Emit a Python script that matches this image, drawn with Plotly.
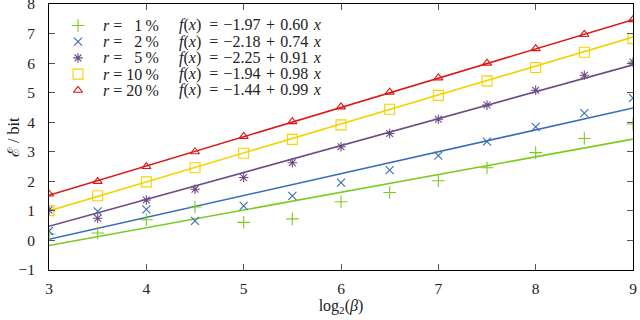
import plotly.graph_objects as go

x_vals = [3, 3.5, 4, 4.5, 5, 5.5, 6, 6.5, 7, 7.5, 8, 8.5, 9]

r1 = [0.22, 0.25, 0.70, 1.13, 0.61, 0.73, 1.31, 1.62, 2.02, 2.46, 2.97, 3.45, 3.94]
r2 = [0.32, 0.98, 1.05, 0.66, 1.17, 1.51, 1.96, 2.38, 2.87, 3.34, 3.84, 4.31, 4.82]
r5 = [1.03, 0.75, 1.37, 1.73, 2.13, 2.63, 3.17, 3.62, 4.10, 4.58, 5.08, 5.59, 6.04]
r10 = [1.01, 1.51, 1.98, 2.46, 2.95, 3.42, 3.91, 4.44, 4.91, 5.40, 5.85, 6.37, 6.83]
r20 = [1.57, 2.00, 2.50, 3.00, 3.52, 4.02, 4.52, 5.02, 5.50, 6.00, 6.49, 6.97, 7.47]

rates = ["\u20071", "\u20072", "\u20075", "10", "20"]
intercepts = [-1.97, -2.18, -2.25, -1.94, -1.44]
slopes = [0.60, 0.74, 0.91, 0.98, 0.99]
series = [r1, r2, r5, r10, r20]

colors = ["#7ACB1E", "#3A6DB5", "#6F4D84", "#F2D400", "#DA1818"]
symbols = ["cross-thin-open", "x-thin-open", "asterisk-open", "square-open", "triangle-up-open"]
sizes = [9, 8, 8, 10, 8]

SERIF = "Liberation Serif, Times New Roman, DejaVu Serif, serif"
TXT = "#222222"

# layout geometry (pixels)
W, H = 640, 320
ML, MR, MT, MB = 49, 7, 4, 50
PW, PH = W - ML - MR, H - MT - MB
KEY_X = 78          # legend key centre
R_X = 101           # "r = .." column start
F_X = 177           # "f(x) = .." column start
ROW0, ROW_H = 25.5, 16.2
YTITLE_X = 13

def px_to_paper_x(px):
    return (px - ML) / PW

def px_to_paper_y(py):
    return 1 - (py - MT) / PH

fig = go.Figure()

for i in range(5):
    a, b = intercepts[i], slopes[i]
    fit = [a + b * xv for xv in x_vals]
    fig.add_trace(go.Scatter(
        x=x_vals, y=fit, mode="lines",
        line=dict(color=colors[i], width=1.6),
        showlegend=False, hoverinfo="skip"))

for i in range(5):
    fig.add_trace(go.Scatter(
        x=x_vals, y=series[i], mode="markers", showlegend=False,
        marker=dict(symbol=symbols[i], size=sizes[i], color=colors[i],
                    line=dict(color=colors[i], width=1.1))))

# legend: keys on an overlay (paper-like) axis, labels as annotations
for i in range(5):
    a, b = intercepts[i], slopes[i]
    ry = ROW0 + i * ROW_H
    fig.add_trace(go.Scatter(
        x=[px_to_paper_x(KEY_X)], y=[px_to_paper_y(ry)], mode="markers",
        xaxis="x2", yaxis="y2", showlegend=False, hoverinfo="skip",
        marker=dict(symbol=symbols[i], size=sizes[i], color=colors[i],
                    line=dict(color=colors[i], width=1.1))))
    sign = "\u2212" if a < 0 else "+"
    fig.add_annotation(
        xref="paper", yref="paper", x=px_to_paper_x(R_X), y=px_to_paper_y(ry),
        xanchor="left", yanchor="middle", showarrow=False,
        text=f"<i>r</i>\u2005=\u2005{rates[i]}\u2009%",
        font=dict(family=SERIF, size=16, color=TXT))
    fig.add_annotation(
        xref="paper", yref="paper", x=px_to_paper_x(F_X), y=px_to_paper_y(ry),
        xanchor="left", yanchor="middle", showarrow=False,
        text=(f"<i>f</i>(<i>x</i>)\u2002=\u2004{sign}{abs(a):.2f}"
              f"\u2004+\u2004{b:.2f}\u2004<i>x</i>"),
        font=dict(family=SERIF, size=16, color=TXT))

# y-axis title
fig.add_annotation(
    xref="paper", yref="paper", x=px_to_paper_x(YTITLE_X), y=0.5,
    xanchor="center", yanchor="middle", showarrow=False, textangle=-90,
    text="ℰ / bit", font=dict(family=SERIF, size=16, color=TXT))

axis_common = dict(
    showgrid=False, zeroline=False, showline=True, linecolor="black",
    linewidth=1, mirror="allticks", ticks="inside", ticklen=6,
    tickcolor="#555555", tickwidth=1, ticklabeloverflow="allow",
    tickfont=dict(family=SERIF, size=15.5, color=TXT),
)

fig.update_xaxes(range=[3, 9], tickvals=[3, 4, 5, 6, 7, 8, 9],
                 ticklabelstandoff=4,
                 title=dict(text="log<sub>2</sub>(<i>β</i>)", standoff=3,
                            font=dict(family=SERIF, size=16, color=TXT)),
                 **axis_common)
fig.update_yaxes(range=[-1, 8], tickvals=[-1, 0, 1, 2, 3, 4, 5, 6, 7, 8],
                 ticklabelstandoff=10,
                 **axis_common)

fig.update_layout(
    width=W, height=H,
    margin=dict(l=ML, r=MR, t=MT, b=MB, autoexpand=False),
    paper_bgcolor="white", plot_bgcolor="white",
    font=dict(family=SERIF),
    xaxis2=dict(overlaying="x", range=[0, 1], visible=False, fixedrange=True),
    yaxis2=dict(overlaying="y", range=[0, 1], visible=False, fixedrange=True),
    showlegend=False,
)

fig.write_html("out.html", config={"displayModeBar": False},
               post_script="document.body.style.margin='0px';document.body.style.padding='0px';")
